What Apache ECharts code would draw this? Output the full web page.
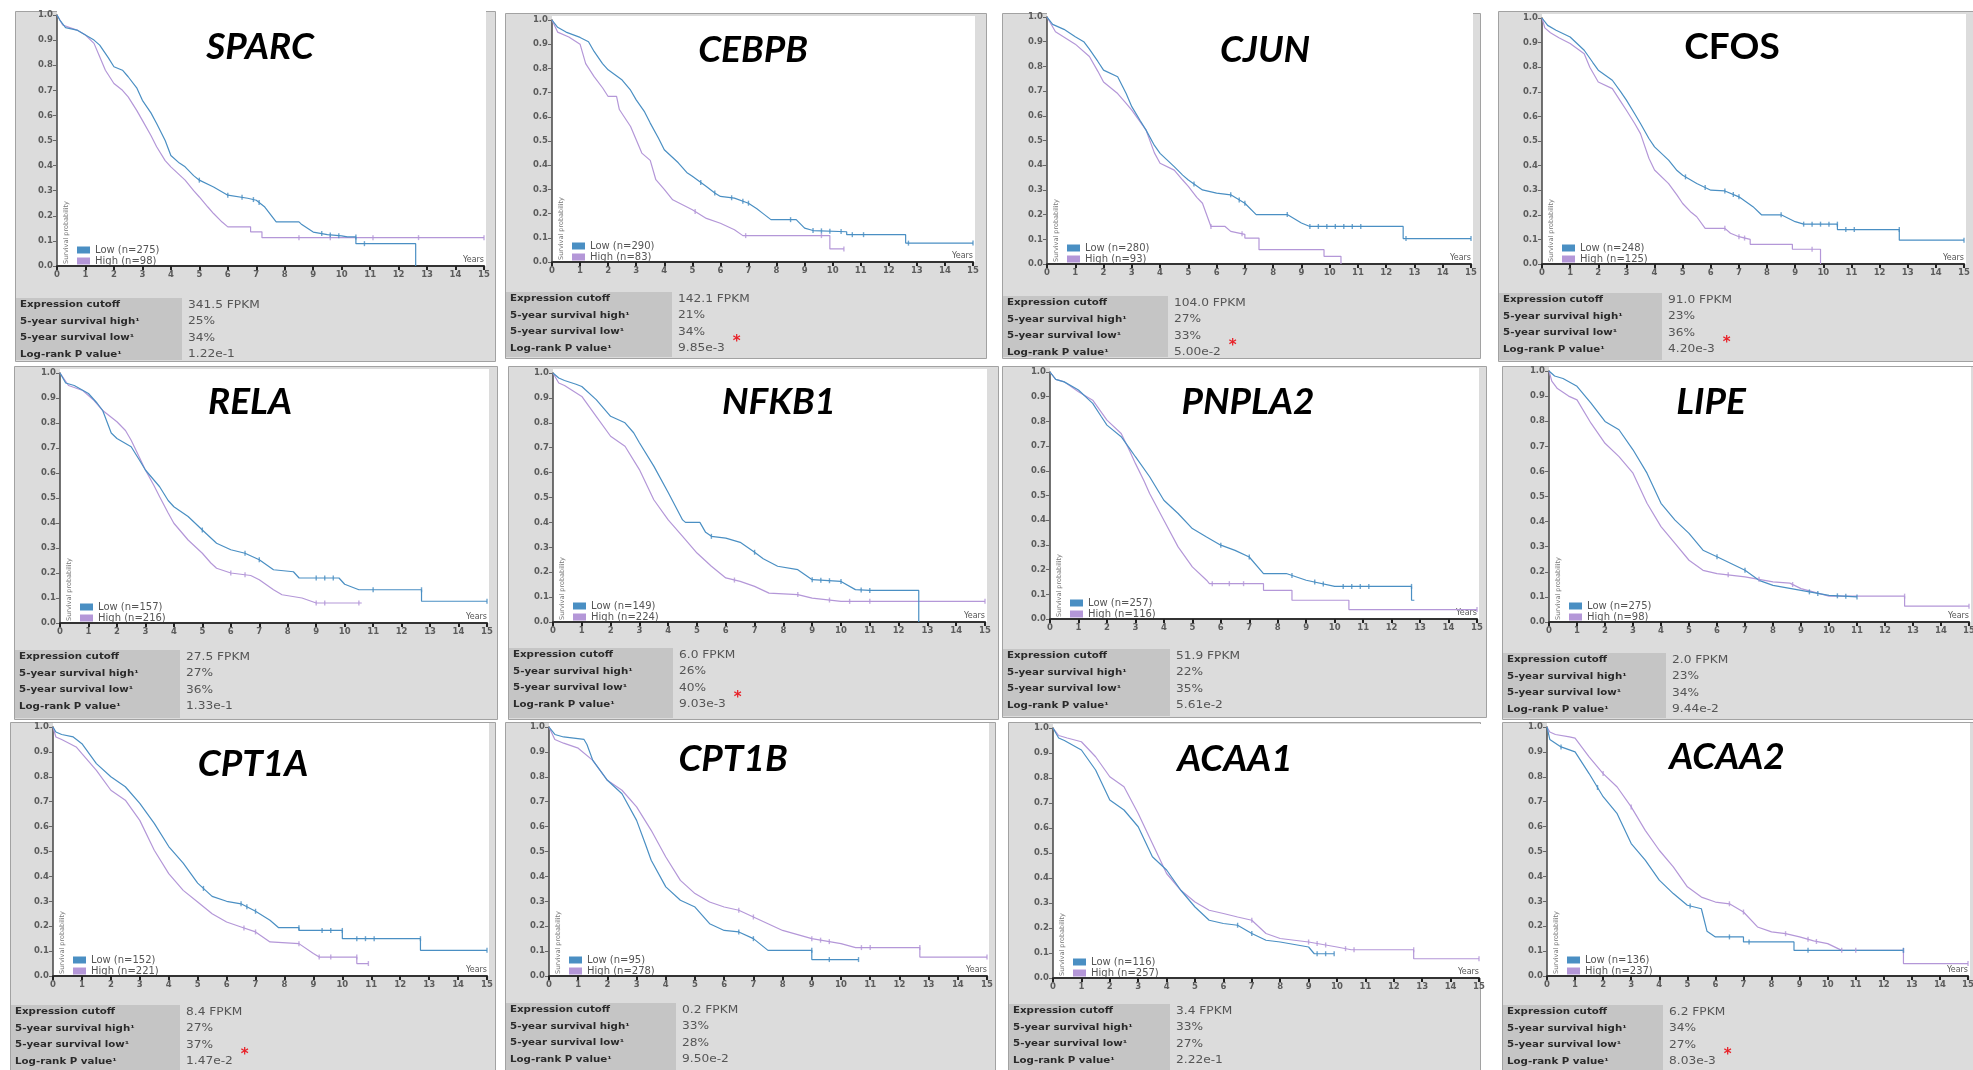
<!DOCTYPE html>
<html>
<head>
<meta charset="utf-8">
<script src="https://cdn.jsdelivr.net/npm/echarts/dist/echarts.min.js"></script>
<style>
  html, body { margin: 0; padding: 0; background: #fff; }
  #chart { width: 1973px; height: 1070px; }
</style>
</head>
<body>
<div id="chart"></div>
<script>
// ---- data ----
const genes = ['SPARC', 'CEBPB', 'CJUN', 'CFOS', 'RELA', 'NFKB1', 'PNPLA2', 'LIPE', 'CPT1A', 'CPT1B', 'ACAA1', 'ACAA2']
const lowN = [275, 290, 280, 248, 157, 149, 257, 275, 152, 95, 116, 136]
const highN = [98, 83, 93, 125, 216, 224, 116, 98, 221, 278, 257, 237]
const cutoffs = ['341.5 FPKM', '142.1 FPKM', '104.0 FPKM', '91.0 FPKM', '27.5 FPKM', '6.0 FPKM', '51.9 FPKM', '2.0 FPKM', '8.4 FPKM', '0.2 FPKM', '3.4 FPKM', '6.2 FPKM']
const survHigh = ['25%', '21%', '27%', '23%', '27%', '26%', '22%', '23%', '27%', '33%', '33%', '34%']
const survLow = ['34%', '34%', '33%', '36%', '36%', '40%', '35%', '34%', '37%', '28%', '27%', '27%']
const pValues = ['1.22e-1', '9.85e-3', '5.00e-2', '4.20e-3', '1.33e-1', '9.03e-3', '5.61e-2', '9.44e-2', '1.47e-2', '9.50e-2', '2.22e-1', '8.03e-3']
const significant = [false, true, true, true, false, true, false, false, true, false, false, true]
const rowLabels = ['Expression cutoff', '5-year survival high¹', '5-year survival low¹', 'Log-rank P value¹']

// Kaplan-Meier curves as traced: [years, survival]; repeated years are the visible drops
const sparcLow = [[0,1],[0.1,0.98],[0.3,0.95],[0.7,0.94],[1,0.92],[1.3,0.9],[1.5,0.88],[1.8,0.83],[2,0.794],[2.3,0.78],[2.5,0.754],[2.8,0.71],[3,0.66],[3.3,0.61],[3.5,0.568],[3.8,0.5],[4,0.44],[4.3,0.41],[4.5,0.395],[4.8,0.36],[5,0.342],[5.5,0.315],[6,0.282],[6.7,0.27],[7,0.262],[7.3,0.235],[7.7,0.176],[8.5,0.176],[8.6,0.165],[9,0.135],[9.5,0.125],[10,0.12],[10.2,0.116],[10.5,0.116],[10.5,0.089],[12.6,0.089],[12.6,0]]
const sparcHigh = [[0,1],[0.2,0.96],[0.7,0.94],[1,0.92],[1.3,0.887],[1.5,0.834],[1.7,0.78],[2,0.727],[2.3,0.7],[2.5,0.674],[2.8,0.62],[3,0.58],[3.3,0.52],[3.5,0.475],[3.8,0.42],[4,0.395],[4.5,0.342],[4.8,0.3],[5,0.275],[5.3,0.235],[5.5,0.209],[5.8,0.175],[6,0.156],[6.8,0.156],[6.8,0.136],[7.2,0.136],[7.2,0.113],[15,0.113]]
const cebpbLow = [[0,1],[0.2,0.97],[0.5,0.95],[1,0.928],[1.3,0.91],[1.5,0.87],[1.8,0.82],[2,0.794],[2.5,0.752],[2.8,0.71],[3,0.67],[3.3,0.62],[3.5,0.574],[3.8,0.51],[4,0.464],[4.5,0.41],[4.8,0.37],[5,0.354],[5.5,0.312],[5.8,0.285],[6,0.271],[6.5,0.264],[7,0.243],[7.3,0.22],[7.5,0.202],[7.8,0.175],[8.7,0.175],[9,0.14],[9.3,0.13],[10.5,0.125],[10.5,0.113],[12.6,0.113],[12.6,0.078],[15,0.078]]
const cebpbHigh = [[0,1],[0.2,0.95],[0.6,0.93],[1,0.9],[1.2,0.82],[1.5,0.766],[1.8,0.72],[2,0.684],[2.3,0.684],[2.4,0.63],[2.8,0.56],[3,0.505],[3.2,0.45],[3.5,0.42],[3.7,0.34],[4,0.3],[4.3,0.257],[5,0.216],[5.5,0.18],[6,0.16],[6.5,0.133],[6.8,0.109],[9.9,0.109],[9.9,0.054],[10.4,0.054]]
const cjunLow = [[0,1],[0.2,0.97],[0.6,0.95],[1,0.92],[1.3,0.9],[1.5,0.87],[1.8,0.82],[2,0.785],[2.5,0.758],[2.8,0.69],[3,0.637],[3.3,0.58],[3.5,0.543],[3.8,0.48],[4,0.448],[4.5,0.394],[4.8,0.36],[5,0.34],[5.5,0.3],[6,0.287],[6.5,0.28],[7,0.246],[7.4,0.2],[8.5,0.2],[9,0.166],[9.3,0.152],[12.6,0.152],[12.6,0.103],[15,0.103]]
const cjunHigh = [[0,1],[0.3,0.94],[1,0.89],[1.5,0.84],[1.8,0.78],[2,0.737],[2.5,0.69],[2.8,0.65],[3,0.623],[3.5,0.543],[3.8,0.45],[4,0.408],[4.5,0.38],[4.8,0.34],[5,0.314],[5.3,0.27],[5.5,0.246],[5.8,0.152],[6.3,0.152],[6.5,0.132],[7,0.12],[7,0.105],[7.5,0.105],[7.5,0.058],[9.8,0.058],[9.8,0.031],[10.4,0.031],[10.4,0]]
const cfosLow = [[0,1],[0.2,0.97],[0.5,0.95],[1,0.923],[1.5,0.869],[1.8,0.82],[2,0.788],[2.5,0.747],[2.8,0.7],[3,0.666],[3.3,0.61],[3.5,0.571],[3.8,0.51],[4,0.476],[4.5,0.422],[4.8,0.38],[5,0.361],[5.5,0.327],[6,0.3],[6.5,0.297],[7,0.273],[7.5,0.233],[7.8,0.2],[8.5,0.2],[9,0.172],[9.3,0.162],[10.5,0.162],[10.5,0.14],[12.7,0.14],[12.7,0.097],[15,0.097]]
const cfosHigh = [[0,1],[0.1,0.96],[0.3,0.94],[0.6,0.92],[1,0.896],[1.5,0.855],[1.7,0.8],[2,0.74],[2.5,0.713],[2.8,0.66],[3,0.625],[3.3,0.57],[3.5,0.53],[3.8,0.43],[4,0.382],[4.5,0.327],[4.8,0.28],[5,0.246],[5.3,0.21],[5.5,0.192],[5.8,0.145],[6.5,0.145],[6.7,0.125],[7,0.111],[7.4,0.1],[7.4,0.08],[8.9,0.08],[8.9,0.06],[9.9,0.06],[9.9,0]]
const relaLow = [[0,1],[0.2,0.96],[0.5,0.95],[1,0.918],[1.3,0.88],[1.5,0.85],[1.8,0.76],[2,0.738],[2.5,0.705],[2.8,0.65],[3,0.612],[3.5,0.545],[3.8,0.49],[4,0.465],[4.5,0.426],[5,0.372],[5.5,0.319],[6,0.293],[6.5,0.279],[7,0.253],[7.5,0.213],[8.2,0.205],[8.4,0.18],[9.8,0.18],[10,0.155],[10.5,0.133],[12.7,0.133],[12.7,0.087],[15,0.087]]
const relaHigh = [[0,1],[0.3,0.95],[0.8,0.93],[1.2,0.89],[1.5,0.85],[2,0.805],[2.3,0.77],[2.5,0.731],[2.8,0.66],[3,0.612],[3.3,0.55],[3.5,0.505],[3.8,0.44],[4,0.399],[4.5,0.332],[5,0.279],[5.3,0.24],[5.5,0.219],[6,0.2],[6.7,0.19],[7,0.173],[7.5,0.133],[7.8,0.113],[8.5,0.1],[9,0.08],[10.6,0.08]]
const nfkb1Low = [[0,1],[0.2,0.98],[0.4,0.97],[0.8,0.955],[1,0.946],[1.5,0.893],[2,0.826],[2.5,0.8],[2.8,0.76],[3,0.72],[3.5,0.626],[4,0.52],[4.5,0.41],[4.6,0.4],[5.1,0.4],[5.3,0.36],[5.5,0.344],[6,0.337],[6.5,0.32],[7,0.28],[7.3,0.254],[7.8,0.224],[8.5,0.21],[9,0.17],[10,0.163],[10.5,0.13],[11,0.127],[12.7,0.127],[12.7,0]]
const nfkb1High = [[0,1],[0.2,0.96],[0.4,0.95],[1,0.906],[1.5,0.826],[2,0.746],[2.5,0.706],[3,0.612],[3.5,0.491],[4,0.41],[4.5,0.344],[5,0.277],[5.5,0.224],[6,0.177],[6.5,0.163],[7,0.143],[7.5,0.116],[8.5,0.11],[9,0.096],[10,0.083],[15,0.083]]
const pnpla2Low = [[0,1],[0.2,0.97],[0.5,0.96],[1,0.927],[1.5,0.873],[1.8,0.82],[2,0.785],[2.5,0.738],[2.8,0.69],[3,0.657],[3.5,0.576],[4,0.481],[4.5,0.427],[5,0.366],[5.5,0.332],[6,0.299],[6.5,0.278],[7,0.251],[7.5,0.184],[8.3,0.184],[9,0.157],[10,0.132],[12.7,0.132],[12.7,0.076],[12.8,0.076]]
const pnpla2High = [[0,1],[0.2,0.97],[0.5,0.96],[1,0.92],[1.5,0.886],[2,0.805],[2.5,0.751],[2.8,0.68],[3,0.63],[3.3,0.56],[3.5,0.508],[4,0.4],[4.5,0.292],[5,0.211],[5.5,0.157],[5.6,0.143],[7.5,0.143],[7.5,0.116],[8.5,0.116],[8.5,0.076],[10.5,0.076],[10.5,0.038],[15,0.038]]
const lipeLow = [[0,1],[0.2,0.98],[0.5,0.97],[1,0.939],[1.5,0.872],[2,0.799],[2.5,0.766],[3,0.686],[3.5,0.593],[4,0.473],[4.5,0.406],[5,0.353],[5.5,0.286],[6,0.26],[6.5,0.233],[7,0.206],[7.5,0.166],[8,0.146],[9,0.126],[10,0.106],[11,0.1]]
const lipeHigh = [[0,1],[0.1,0.96],[0.3,0.93],[0.7,0.9],[1,0.885],[1.5,0.792],[2,0.712],[2.5,0.659],[3,0.593],[3.5,0.473],[4,0.38],[4.5,0.313],[5,0.246],[5.5,0.206],[6,0.193],[7,0.18],[8,0.16],[8.6,0.155],[9,0.133],[10,0.103],[12.7,0.103],[12.7,0.063],[15,0.063]]
const cpt1aLow = [[0,1],[0.1,0.98],[0.3,0.97],[0.7,0.96],[1,0.933],[1.5,0.853],[2,0.8],[2.5,0.76],[3,0.693],[3.5,0.613],[4,0.52],[4.5,0.453],[5,0.373],[5.5,0.32],[6,0.3],[6.5,0.29],[7,0.26],[7.5,0.224],[7.8,0.194],[8.5,0.194],[8.5,0.183],[10,0.183],[10,0.15],[12.7,0.15],[12.7,0.103],[15,0.103]]
const cpt1aHigh = [[0,1],[0.1,0.96],[0.3,0.95],[0.8,0.92],[1,0.893],[1.5,0.826],[2,0.746],[2.5,0.706],[3,0.625],[3.5,0.505],[4,0.411],[4.5,0.344],[5,0.297],[5.5,0.25],[6,0.217],[6.5,0.197],[7,0.177],[7.5,0.137],[8.5,0.13],[9,0.09],[9.2,0.076],[10.5,0.076],[10.5,0.05],[10.9,0.05]]
const cpt1bLow = [[0,1],[0.2,0.97],[0.5,0.96],[1.2,0.95],[1.3,0.93],[1.5,0.866],[2,0.786],[2.5,0.732],[3,0.625],[3.3,0.53],[3.5,0.465],[4,0.358],[4.5,0.304],[5,0.277],[5.5,0.21],[6,0.183],[6.5,0.177],[7,0.15],[7.5,0.103],[9,0.103],[9,0.066],[10.6,0.066]]
const cpt1bHigh = [[0,1],[0.2,0.95],[0.5,0.935],[1,0.915],[1.5,0.866],[2,0.786],[2.5,0.746],[3,0.679],[3.5,0.585],[4,0.478],[4.5,0.384],[5,0.331],[5.5,0.297],[6,0.277],[6.5,0.264],[7,0.237],[7.5,0.21],[8,0.183],[9,0.15],[10,0.13],[10.5,0.114],[12.7,0.114],[12.7,0.076],[15,0.076]]
const acaa1Low = [[0,1],[0.2,0.96],[0.4,0.95],[1,0.912],[1.5,0.832],[1.8,0.76],[2,0.712],[2.5,0.672],[3,0.605],[3.5,0.485],[4,0.432],[4.5,0.351],[5,0.284],[5.5,0.231],[6,0.218],[6.5,0.211],[7,0.178],[7.5,0.151],[8,0.144],[9,0.124],[9.2,0.097],[9.9,0.097]]
const acaa1High = [[0,1],[0.2,0.97],[0.5,0.96],[1,0.945],[1.5,0.885],[2,0.805],[2.5,0.765],[3,0.658],[3.5,0.538],[4,0.418],[4.5,0.351],[5,0.304],[5.5,0.271],[6,0.258],[6.5,0.244],[7,0.231],[7.5,0.178],[8,0.158],[9,0.144],[10,0.124],[10.5,0.113],[12.7,0.113],[12.7,0.077],[15,0.077]]
const acaa2Low = [[0,1],[0.1,0.95],[0.5,0.92],[1,0.9],[1.5,0.813],[2,0.72],[2.5,0.652],[3,0.532],[3.5,0.465],[4,0.385],[4.5,0.331],[5,0.284],[5.5,0.27],[5.7,0.18],[6,0.157],[7,0.157],[7,0.137],[8.8,0.137],[8.8,0.103],[12.7,0.103]]
const acaa2High = [[0,1],[0.1,0.98],[0.3,0.97],[0.8,0.96],[1,0.955],[1.5,0.88],[2,0.813],[2.5,0.759],[3,0.679],[3.5,0.585],[4,0.505],[4.5,0.438],[5,0.358],[5.5,0.317],[6,0.297],[6.5,0.29],[7,0.257],[7.5,0.197],[8,0.177],[8.5,0.17],[9,0.157],[9.5,0.141],[10,0.13],[10.5,0.103],[12.7,0.103],[12.7,0.05],[15,0.05]]

// censoring ticks (years)
const sparcLowCens = [5, 6, 6.5, 6.9, 7.1, 9.3, 9.6, 9.9, 10.5, 10.8]
const sparcHighCens = [8.5, 9.6, 11.1, 12.7, 15]
const cebpbLowCens = [5.3, 5.8, 6.4, 6.8, 7, 8.5, 9.3, 9.6, 9.9, 10.3, 10.7, 11.1, 12.7, 15]
const cebpbHighCens = [5.1, 6.9, 9.6, 10.4]
const cjunLowCens = [5.2, 6.5, 6.8, 7, 8.5, 9.3, 9.6, 9.9, 10.2, 10.5, 10.8, 11.1, 12.7, 15]
const cjunHighCens = [5.8, 6.9]
const cfosLowCens = [5.1, 5.8, 6.5, 6.8, 7, 8.5, 9.3, 9.6, 9.9, 10.2, 10.5, 10.8, 11.1, 12.7, 15]
const cfosHighCens = [6.5, 7, 7.2, 9.6]
const relaLowCens = [5, 6.5, 7, 9, 9.3, 9.6, 11, 12.7, 15]
const relaHighCens = [6, 6.5, 9, 9.3, 10.5]
const nfkb1LowCens = [5.5, 7, 9, 9.3, 9.6, 10, 10.7, 11]
const nfkb1HighCens = [6.3, 8.5, 9.6, 10.3, 11, 15]
const pnpla2LowCens = [6, 7, 8.5, 9.3, 9.6, 10.3, 10.6, 10.9, 11.2, 12.7]
const pnpla2HighCens = [5.7, 6.3, 6.8, 15]
const lipeLowCens = [6, 7, 9.3, 9.6, 10.3, 10.6, 11]
const lipeHighCens = [6.4, 7.5, 8.7, 12.7, 15]
const cpt1aLowCens = [5.2, 6.5, 6.7, 7, 8.5, 9.3, 9.6, 10, 10.5, 10.8, 11.1, 12.7, 15]
const cpt1aHighCens = [6.6, 7, 8.5, 9.2, 9.6, 10.5, 10.9]
const cpt1bLowCens = [6.5, 7, 9, 9.6, 10.6]
const cpt1bHighCens = [6.5, 7, 9, 9.3, 9.6, 10.7, 11, 12.7, 15]
const acaa1LowCens = [6.5, 7, 9.3, 9.6, 9.9]
const acaa1HighCens = [7, 9, 9.3, 9.6, 10.3, 10.6, 12.7, 15]
const acaa2LowCens = [0.5, 1.8, 5.1, 6.5, 7.2, 9.3, 12.7]
const acaa2HighCens = [2, 3, 6.5, 7, 8.5, 9.3, 9.6, 10.5, 11, 12.7, 15]

const lowCurves = [sparcLow, cebpbLow, cjunLow, cfosLow, relaLow, nfkb1Low, pnpla2Low, lipeLow, cpt1aLow, cpt1bLow, acaa1Low, acaa2Low]
const highCurves = [sparcHigh, cebpbHigh, cjunHigh, cfosHigh, relaHigh, nfkb1High, pnpla2High, lipeHigh, cpt1aHigh, cpt1bHigh, acaa1High, acaa2High]
const lowCens = [sparcLowCens, cebpbLowCens, cjunLowCens, cfosLowCens, relaLowCens, nfkb1LowCens, pnpla2LowCens, lipeLowCens, cpt1aLowCens, cpt1bLowCens, acaa1LowCens, acaa2LowCens]
const highCens = [sparcHighCens, cebpbHighCens, cjunHighCens, cfosHighCens, relaHighCens, nfkb1HighCens, pnpla2HighCens, lipeHighCens, cpt1aHighCens, cpt1bHighCens, acaa1HighCens, acaa2HighCens]

// ---- layout of the 4x3 mosaic (pixels) ----
const panelRects = [
  [15, 11, 495, 361], [505, 13, 986, 358], [1002, 13, 1480, 358], [1498, 11, 1975, 361],
  [14, 366, 497, 719], [508, 366, 998, 719], [1002, 366, 1486, 717], [1502, 366, 1975, 719],
  [10, 722, 495, 1072], [505, 722, 995, 1072], [1008, 722, 1480, 1072], [1502, 722, 1975, 1072]
]
// x of 0 years, x of 15 years, y of 1.0, y of 0.0
const plotRects = [
  [57, 484, 15, 266], [552, 973, 20, 262], [1047, 1471, 17, 264], [1542, 1964, 18, 264],
  [60, 487, 373, 623], [553, 985, 373, 622], [1050, 1477, 372, 619], [1549, 1969, 371, 622],
  [53, 487, 727, 976], [549, 987, 727, 976], [1053, 1479, 728, 978], [1547, 1968, 727, 976]
]
const tableTops = [298, 292, 296, 293, 650, 648, 649, 653, 1005, 1003, 1004, 1005]
const labelColRight = [182, 672, 1168, 1662, 180, 673, 1170, 1666, 180, 676, 1170, 1663]
const titleCenters = [[260, 45], [753, 48], [1265, 48], [1732, 45], [250, 400], [779, 400], [1248, 400], [1711, 400], [253, 762], [733, 757], [1235, 757], [1727, 755]]
const titleItalic = [true, true, true, false, true, true, true, true, true, true, true, true]

const BLUE = '#4a8fc3'
const PURPLE = '#b497d8'

const measureCtx = document.createElement('canvas').getContext('2d')
const textWidth = (s, font) => { measureCtx.font = font; return measureCtx.measureText(s).width }

// height of the traced curve at time t (to seat a censoring tick on it)
const curveAt = (curve, t) => {
  for (let j = 0; j < curve.length - 1; j++) {
    const a = curve[j], b = curve[j + 1]
    if (a[0] === b[0]) continue
    if (t >= a[0] && t <= b[0]) return a[1] + (b[1] - a[1]) * (t - a[0]) / (b[0] - a[0])
  }
  return curve[curve.length - 1][1]
}

const chart = echarts.init(document.getElementById('chart'))

const grid = [], xAxis = [], yAxis = [], series = [], legend = [], title = [], elements = []

genes.forEach((gene, i) => {
  const [L, T, R, B] = panelRects[i]
  const [x0, x15, y1, y0] = plotRects[i]
  const lowName = 'Low (n=' + lowN[i] + ')'
  const highName = 'High (n=' + highN[i] + ')'

  // panel background, white plot area, table label column
  elements.push({ type: 'rect', z: 0, shape: { x: L + 0.5, y: T + 0.5, width: R - L, height: B - T }, style: { fill: '#dcdcdc', stroke: '#a2a2a2', lineWidth: 1 } })
  elements.push({ type: 'rect', z: 1, shape: { x: x0, y: y1 - 4, width: x15 - x0 + 2, height: y0 - y1 + 4 }, style: { fill: '#ffffff' } })
  elements.push({ type: 'rect', z: 1, shape: { x: L + 1, y: tableTops[i], width: labelColRight[i] - L - 1, height: B - tableTops[i] - 1 }, style: { fill: '#c5c5c5' } })

  // vertical axis caption inside the plot
  elements.push({
    type: 'text', z: 4, x: x0 + 9, y: y0 - 2, rotation: Math.PI / 2,
    style: { text: 'Survival probability', font: '6.5px "DejaVu Sans"', fill: '#777', align: 'left', verticalAlign: 'middle', textAlign: 'left', textVerticalAlign: 'middle' }
  })

  // table
  const values = [cutoffs[i], survHigh[i], survLow[i], pValues[i]]
  rowLabels.forEach((lab, k) => {
    const ry = tableTops[i] + 7 + k * 16.5
    elements.push({
      type: 'text', z: 4, x: L + 5, y: ry, scaleX: 1.28,
      style: { text: lab, font: 'bold 8px "DejaVu Sans"', fill: '#2a2a2a', align: 'left', verticalAlign: 'middle', textAlign: 'left', textVerticalAlign: 'middle' }
    })
    const vx = labelColRight[i] + 6
    const vfont = '10px "DejaVu Sans"'
    elements.push({
      type: 'text', z: 4, x: vx, y: ry, scaleX: 1.22,
      style: { text: values[k], font: vfont, fill: '#555', align: 'left', verticalAlign: 'middle', textAlign: 'left', textVerticalAlign: 'middle' }
    })
    if (k === 3 && significant[i]) {
      const w = textWidth(values[k], vfont) * 1.22
      elements.push({
        type: 'text', z: 4, x: vx + w + 8, y: ry - 6,
        style: { text: '*', font: 'bold 15px "DejaVu Sans"', fill: '#e8232a', align: 'left', verticalAlign: 'middle', textAlign: 'left', textVerticalAlign: 'middle' }
      })
    }
  })

  title.push({
    text: gene, left: titleCenters[i][0], top: titleCenters[i][1] + 2, padding: 0,
    textAlign: 'center', textVerticalAlign: 'middle',
    textStyle: { fontFamily: 'Lato', fontSize: 37, fontWeight: 'bold', fontStyle: titleItalic[i] ? 'italic' : 'normal', color: '#000' }
  })

  grid.push({ left: x0, top: y1, width: x15 - x0, height: y0 - y1, containLabel: false, outerBoundsMode: 'none', show: false })

  xAxis.push({
    type: 'value', gridIndex: i, min: 0, max: 15, interval: 1, z: 5,
    name: 'Years', nameLocation: 'end', nameGap: 0,
    nameTextStyle: { fontFamily: 'DejaVu Sans', fontSize: 8, color: '#555', align: 'right', verticalAlign: 'bottom', padding: [0, 0, 2, 0] },
    axisLine: { show: true, onZero: false, lineStyle: { color: '#333', width: 2 } },
    axisTick: { show: true, length: 4, lineStyle: { color: '#222', width: 2 } },
    axisLabel: { fontFamily: 'DejaVu Sans', fontSize: 8.5, fontWeight: 'bold', color: '#5c5c5c', margin: 4, hideOverlap: false },
    splitLine: { show: false }
  })
  yAxis.push({
    type: 'value', gridIndex: i, min: 0, max: 1, interval: 0.1, z: 5,
    axisLine: { show: true, onZero: false, lineStyle: { color: '#444', width: 1.5 } },
    axisTick: { show: true, length: 4, lineStyle: { color: '#666', width: 1 } },
    axisLabel: { fontFamily: 'DejaVu Sans', fontSize: 8.5, fontWeight: 'bold', color: '#5c5c5c', margin: 4, formatter: (v) => v.toFixed(1), hideOverlap: false },
    splitLine: { show: false }
  })

  legend.push({
    left: x0 + 20, top: y0 - 21, orient: 'vertical', padding: 0, itemGap: 1,
    itemWidth: 13, itemHeight: 7, icon: 'rect', selectedMode: false,
    data: [lowName, highName],
    textStyle: { fontFamily: 'DejaVu Sans', fontSize: 10, color: '#555' }
  })

  series.push({
    type: 'line', name: highName, xAxisIndex: i, yAxisIndex: i, z: 6,
    symbol: 'none', showSymbol: false, silent: true, data: highCurves[i],
    color: PURPLE, lineStyle: { color: PURPLE, width: 1.2 }
  })
  series.push({
    type: 'line', name: lowName, xAxisIndex: i, yAxisIndex: i, z: 6,
    symbol: 'none', showSymbol: false, silent: true, data: lowCurves[i],
    color: BLUE, lineStyle: { color: BLUE, width: 1.2 }
  })
  series.push({
    type: 'scatter', name: highName, xAxisIndex: i, yAxisIndex: i, z: 7, silent: true,
    symbol: 'rect', symbolSize: [1.4, 5], color: PURPLE,
    data: highCens[i].map((t) => [t, curveAt(highCurves[i], t)])
  })
  series.push({
    type: 'scatter', name: lowName, xAxisIndex: i, yAxisIndex: i, z: 7, silent: true,
    symbol: 'rect', symbolSize: [1.4, 5], color: BLUE,
    data: lowCens[i].map((t) => [t, curveAt(lowCurves[i], t)])
  })
})

chart.setOption({
  animation: false,
  backgroundColor: '#ffffff',
  title,
  legend,
  grid,
  xAxis,
  yAxis,
  series,
  graphic: { elements }
})
</script>
</body>
</html>
